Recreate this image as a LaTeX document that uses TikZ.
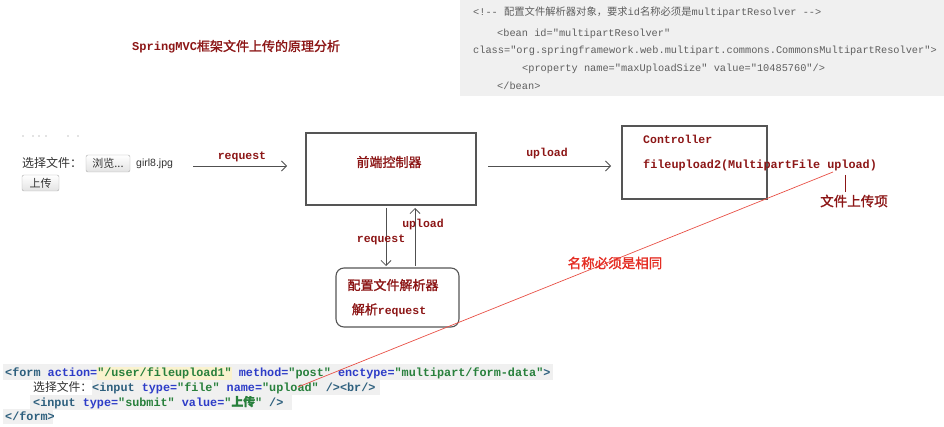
\documentclass[tikz,border=0pt]{standalone}
\usepackage{fontspec}
\setmainfont{Liberation Sans}
\setmonofont{Liberation Mono}
\newfontfamily\cjk{Noto Sans CJK SC}
\newfontfamily\cjkb[FakeBold=1.5]{Noto Sans CJK SC}
\usetikzlibrary{arrows.meta}
\definecolor{dred}{RGB}{140,22,22}
\definecolor{lred}{RGB}{228,45,35}
\definecolor{linered}{RGB}{232,80,70}
\definecolor{boxgray}{RGB}{85,85,85}
\definecolor{arrgray}{RGB}{80,80,80}
\definecolor{codebg}{RGB}{240,240,240}
\definecolor{codegray}{RGB}{95,95,95}
\definecolor{tagc}{RGB}{45,95,125}
\definecolor{attc}{RGB}{45,60,200}
\definecolor{valc}{RGB}{40,128,60}
\definecolor{hlyellow}{RGB}{250,242,205}
\definecolor{txtdark}{RGB}{50,50,50}
\newcommand\tg[1]{\textcolor{tagc}{#1}}
\newcommand\at[1]{\textcolor{attc}{#1}}
\newcommand\vl[1]{\textcolor{valc}{#1}}
\newcommand\hlbox[1]{\begingroup\setlength\fboxsep{0pt}\colorbox{hlyellow}{\strut #1}\endgroup}
\tikzset{
  topcode/.style={inner sep=0, anchor=base west, text=codegray, font=\fontsize{10.3}{12}\selectfont\ttfamily},
  bcode/.style={inner sep=0, anchor=base west, font=\fontsize{11.8}{13}\selectfont\ttfamily\bfseries},
  lbl/.style={inner sep=0, anchor=center, text=dred, font=\fontsize{11.5}{13}\selectfont\ttfamily\bfseries},
  zh/.style={inner sep=0, anchor=center, text=dred, font=\fontsize{13}{15}\selectfont\cjkb},
  boxnode/.style={draw=boxgray, line width=1.1pt, inner sep=0},
  arr/.style={draw=arrgray, line width=0.8pt, -{Straight Barb[length=5pt,width=10pt]}},
  btn/.style={draw=gray!65, rounded corners=2pt, top color=white, bottom color=gray!22, inner sep=0, text=txtdark, font=\fontsize{11}{12}\selectfont\cjk},
}
\begin{document}
\begin{tikzpicture}[x=1pt,y=-1pt]
\useasboundingbox (0,0) rectangle (944,427);
% top code area
\fill[codebg] (460,0) rectangle (944,96);
\node[topcode] (t1) at (473,16) {<!-{}- {\cjk 配置文件解析器对象，要求}id{\cjk 名称必须是}multipartResolver -{}->};
\node[topcode] (t2) at (497,37) {<bean id="multipartResolver"};
\node[topcode] (t3) at (473,54) {class="org.springframework.web.multipart.commons.CommonsMultipartResolver">};
\node[topcode] (t4) at (522,72) {<property name="maxUploadSize" value="10485760"/>};
\node[topcode] (t5) at (497,90) {</bean>};
% title
\node[inner sep=0, anchor=base west, text=dred] (title) at (132,51)
  {{\fontsize{12}{14}\selectfont\ttfamily\bfseries SpringMVC}{\fontsize{13}{14}\selectfont\cjkb 框架文件上传的原理分析}};
% faint dots
\foreach \dx in {23,33,39,46,68,78} \fill[gray!45] (\dx,136) circle (0.8);
% form mock
\node[inner sep=0, anchor=west, text=txtdark, font=\fontsize{12}{14}\selectfont\cjk] (choose) at (22,163) {选择文件：};
\node[btn, minimum width=44pt, minimum height=17pt] (browse) at (108,163.5) {浏览...};
\node[inner sep=0, anchor=west, text=txtdark, font=\fontsize{10.5}{12}\selectfont] (fname) at (136,164) {girl8.jpg};
\node[btn, minimum width=37pt, minimum height=16pt] (upbtn) at (40.5,183) {上传};
% boxes
\node[boxnode, minimum width=170pt, minimum height=72pt] (fc) at (391,169) {};
\node[zh] (fctext) at (389,162) {前端控制器};
\node[boxnode, minimum width=145pt, minimum height=73pt] (ctl) at (694.5,162.5) {};
\node[lbl, anchor=base west] (ctl1) at (643,144) {Controller};
\node[lbl, anchor=base west, font=\fontsize{11.8}{13}\selectfont\ttfamily\bfseries] (ctl2) at (643,169) {fileupload2(MultipartFile upload)};
\node[boxnode, rounded corners=8pt, minimum width=123pt, minimum height=59pt] (res) at (397.5,297.5) {};
\node[zh] (res1) at (393,285) {配置文件解析器};
\node[inner sep=0, anchor=center, text=dred] (res2) at (389,310) {{\fontsize{13}{15}\selectfont\cjkb 解析}{\fontsize{11.5}{13}\selectfont\ttfamily\bfseries request}};
% arrows
\coordinate (r1) at (193,166); \coordinate (r2) at (287,166);
\draw[arr] (r1) -- (r2);
\node[lbl] (reqlbl) at (242,157) {request};
\coordinate (u1) at (488,166); \coordinate (u2) at (611,166);
\draw[arr] (u1) -- (u2);
\node[lbl] (uplbl) at (547,154) {upload};
\coordinate (d1) at (386,208); \coordinate (d2) at (386,266);
\draw[arr] (d1) -- (d2);
\node[lbl] (reqlbl2) at (381,240) {request};
\coordinate (v1) at (415,266); \coordinate (v2) at (415,208);
\draw[arr] (v1) -- (v2);
\node[lbl] (uplbl2) at (423,225) {upload};
% file item label
\coordinate (m1) at (845,175); \coordinate (m2) at (845,192);
\draw[dred, line width=0.7pt] (m1) -- (m2);
\node[zh, font=\fontsize{13.5}{15}\selectfont\cjkb] (fitem) at (854,201) {文件上传项};
% bottom code
\fill[codebg] (3,364) rectangle (553,380);
\fill[codebg] (92,380) rectangle (380,395);
\fill[codebg] (30,395) rectangle (292,410);
\fill[codebg] (3,409) rectangle (53,424);
\node[bcode] (f1) at (5,376) {\tg{<form} \at{action=}\hlbox{\vl{"/user/fileupload1"}} \at{method=}\vl{"post"} \at{enctype=}\vl{"multipart/form-data"}\tg{>}};
\node[bcode] (f2) at (33,391) {{\fontsize{11.8}{13}\selectfont\mdseries\cjk\color{txtdark}选择文件：}\tg{<input} \at{type=}\vl{"file"} \at{name=}\vl{"upload"} \tg{/><br/>}};
\node[bcode] (f3) at (33,406) {\tg{<input} \at{type=}\vl{"submit"} \at{value=}\vl{"{\cjkb 上传}"} \tg{/>}};
\node[bcode] (f4) at (5,420) {\tg{</form>}};
% red link
\coordinate (ra) at (833,172); \coordinate (rb) at (298,387);
\draw[linered, line width=0.7pt] (ra) -- (rb);
\node[zh, text=lred, font=\fontsize{13.5}{15}\selectfont\cjkb] (same) at (615,263) {名称必须是相同};
\end{tikzpicture}
\end{document}
